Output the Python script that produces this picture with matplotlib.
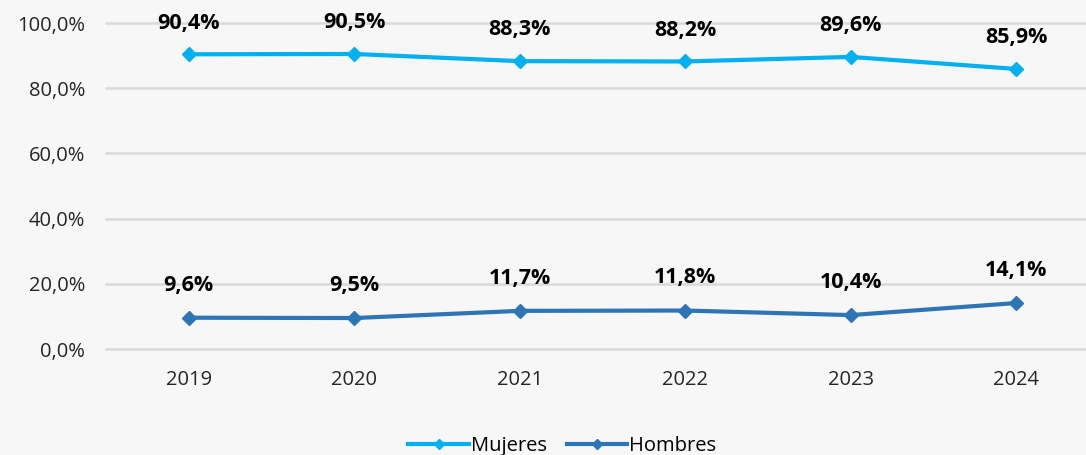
import matplotlib.pyplot as plt

years = ['2019', '2020', '2021', '2022', '2023', '2024']
mujeres = [90.4, 90.5, 88.3, 88.2, 89.6, 85.9]
hombres = [9.6, 9.5, 11.7, 11.8, 10.4, 14.1]

plt.rcParams['font.family'] = ['Open Sans', 'DejaVu Sans']
bg = '#f7f7f7'

fig = plt.figure(figsize=(10.86, 4.55), dpi=100, facecolor=bg)
ax = fig.add_axes([106/1086, 106/455, 993/1086, 326/455], facecolor=bg)

x = range(len(years))
ax.plot(x, mujeres, color='#00b0f0', lw=3, marker='D', ms=7, label='Mujeres')
ax.plot(x, hombres, color='#2e75b6', lw=3, marker='D', ms=7, label='Hombres')

for i in x:
    ax.annotate(f'{mujeres[i]:.1f}%'.replace('.', ','), (i, mujeres[i]), xytext=(0, 22.5),
                textcoords='offset points', ha='center', va='center',
                fontsize=15.5, fontweight='bold', color='black')
    ax.annotate(f'{hombres[i]:.1f}%'.replace('.', ','), (i, hombres[i]), xytext=(0, 23.5),
                textcoords='offset points', ha='center', va='center',
                fontsize=15.5, fontweight='bold', color='black')

ax.set_xlim(-0.5, 5.5)
ax.set_ylim(0, 100)
ax.set_yticks(range(0, 101, 20))
ax.set_yticklabels([f'{v},0%' for v in range(0, 101, 20)])
ax.set_xticks(list(x))
ax.set_xticklabels(years)
ax.tick_params(length=0, labelsize=14.5, colors='#262626')
ax.tick_params(axis='y', pad=15)
ax.tick_params(axis='x', pad=15)
ax.yaxis.grid(True, color='#d9d9d9', lw=1.8)
for gl in ax.get_ygridlines():
    gl.set_clip_on(False)
ax.set_axisbelow(True)
for s in ax.spines.values():
    s.set_visible(False)

ax.legend(loc='lower center', bbox_to_anchor=(0.5 - 40/993, -0.385), ncol=2, frameon=False,
          fontsize=14.5, handlelength=3, handletextpad=0.1, columnspacing=1.0, markerscale=0.8)

fig.savefig('out.png', dpi=100, facecolor=bg)
